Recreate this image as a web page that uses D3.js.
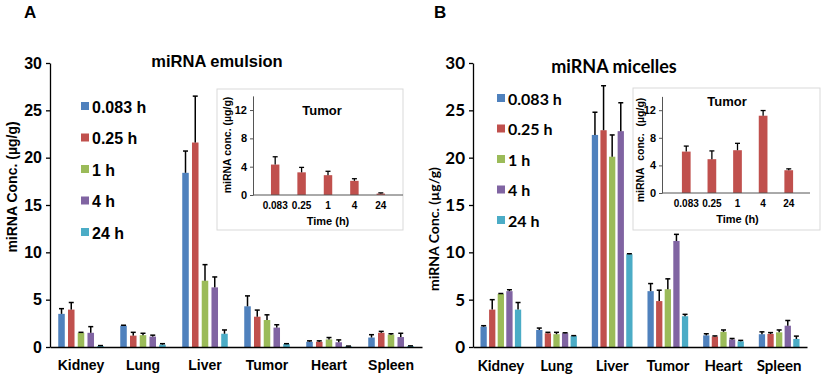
<!DOCTYPE html>
<html><head><meta charset="utf-8">
<script src="https://cdn.jsdelivr.net/npm/d3@7"></script>
<style>body{margin:0;background:#fff}svg{display:block}</style>
</head><body>
<svg id="c" width="824" height="379"></svg>
<script>
// ---- data ----
const organs = ["Kidney", "Lung", "Liver", "Tumor", "Heart", "Spleen"];
const times = ["0.083 h", "0.25 h", "1 h", "4 h", "24 h"];
const timeTicks = ["0.083", "0.25", "1", "4", "24"];
const colors = ["#4f81bd", "#c0504d", "#9bbb59", "#8064a2", "#4bacc6"];
const yTicksMain = [0, 5, 10, 15, 20, 25, 30];
const yTicksInset = [0, 4, 8, 12];

// emulsion: values per time series, across organs
const emul0083 = [3.5, 2.25, 18.4, 4.3, 0.55, 1.0];
const emul025  = [3.95, 1.2, 21.6, 3.2, 0.55, 1.5];
const emul1    = [1.5, 1.25, 7.0, 2.85, 0.8, 1.3];
const emul4    = [1.5, 1.1, 6.3, 2.05, 0.5, 1.05];
const emul24   = [0.1, 0.25, 1.4, 0.3, 0.08, 0.1];
const emul0083Err = [0.55, 0.05, 2.3, 1.1, 0.1, 0.3];
const emul025Err  = [0.75, 0.35, 4.9, 0.7, 0.1, 0.15];
const emul1Err    = [0.05, 0.2, 1.7, 0.55, 0.2, 0.1];
const emul4Err    = [0.65, 0.15, 1.1, 0.3, 0.25, 0.4];
const emul24Err   = [0.05, 0.1, 0.4, 0.05, 0.02, 0.02];

// micelles
const mic0083 = [2.15, 1.8, 22.4, 5.9, 1.23, 1.35];
const mic025  = [3.95, 1.45, 22.9, 4.85, 1.1, 1.38];
const mic1    = [5.6, 1.35, 20.1, 6.1, 1.6, 1.55];
const mic4    = [5.9, 1.45, 22.8, 11.2, 0.8, 2.25];
const mic24   = [3.95, 1.15, 9.8, 3.25, 0.6, 0.85];
const mic0083Err = [0.1, 0.2, 2.4, 0.8, 0.17, 0.25];
const mic025Err  = [1.05, 0.1, 4.7, 1.15, 0.07, 0.14];
const mic1Err    = [0.05, 0.2, 2.3, 1.1, 0.2, 0.25];
const mic4Err    = [0.15, 0.05, 3.0, 0.7, 0.1, 0.55];
const mic24Err   = [0.75, 0.05, 0.05, 0.2, 0.1, 0.3];

// tumor insets
const insetEmul = [4.3, 3.2, 2.8, 2.0, 0.2];
const insetEmulErr = [1.1, 0.7, 0.55, 0.3, 0.1];
const insetMic = [6.0, 4.9, 6.2, 11.2, 3.3];
const insetMicErr = [0.8, 1.2, 1.0, 0.75, 0.2];

const svg = d3.select("#c");
const ARIAL = "'Liberation Sans', Arial, sans-serif";

function buildMatrix(series, errs) {
  return organs.map((o, i) => times.map((t, j) => ({ organ: o, time: t, j, v: series[j][i], e: errs[j][i] })));
}

function drawPanel(cfg) {
  const g = svg.append("g");
  const y = d3.scaleLinear().domain([0, 30]).range([347, 63]);
  const x0 = d3.scaleBand().domain(organs).range([cfg.x0, cfg.x1]).paddingInner(cfg.gPad).paddingOuter(cfg.gPad / 2);
  const x1 = d3.scaleBand().domain(times).range([0, x0.bandwidth()]).paddingInner(cfg.bPad).paddingOuter(cfg.bPad / 2);
  const data = buildMatrix(cfg.series, cfg.errs);

  // bars
  const groups = g.selectAll("g.grp").data(data).join("g").attr("transform", (d, i) => `translate(${x0(organs[i])},0)`);
  groups.selectAll("rect").data(d => d).join("rect")
    .attr("x", d => x1(d.time)).attr("width", x1.bandwidth())
    .attr("y", d => y(d.v)).attr("height", d => y(0) - y(d.v))
    .attr("fill", d => colors[d.j]);
  // error bars
  const eb = groups.selectAll("g.eb").data(d => d).join("g").attr("class", "eb");
  eb.append("line")
    .attr("x1", d => x1(d.time) + x1.bandwidth() / 2).attr("x2", d => x1(d.time) + x1.bandwidth() / 2)
    .attr("y1", d => y(d.v)).attr("y2", d => y(d.v + d.e)).attr("stroke", "#000").attr("stroke-width", 1.5);
  eb.append("line")
    .attr("x1", d => x1(d.time) + x1.bandwidth() / 2 - 2.5).attr("x2", d => x1(d.time) + x1.bandwidth() / 2 + 2.5)
    .attr("y1", d => y(d.v + d.e)).attr("y2", d => y(d.v + d.e)).attr("stroke", "#000").attr("stroke-width", 1.5);

  // y axis
  const ya = g.append("g").attr("transform", `translate(${cfg.x0},0)`)
    .call(d3.axisLeft(y).tickValues(yTicksMain).tickSize(4).tickPadding(4).tickSizeOuter(0));
  ya.select(".domain").attr("stroke", "#000").attr("stroke-width", 1.3);
  ya.selectAll(".tick line").attr("stroke", "#000").attr("stroke-width", 1.3);
  ya.selectAll("text").attr("font-family", cfg.font).attr("font-weight", "bold").attr("font-size", cfg.yTickSize).attr("fill", "#000");

  // x axis
  const xa = g.append("g").attr("transform", `translate(0,${y(0)})`)
    .call(d3.axisBottom(x0).tickSize(0).tickPadding(cfg.xPad).tickSizeOuter(0));
  xa.select(".domain").attr("stroke", "#000").attr("stroke-width", 1.5);
  xa.selectAll("text").attr("font-family", cfg.font).attr("font-weight", "bold").attr("font-size", cfg.tickSize).attr("fill", "#000");

  // axis label
  g.append("text").attr("transform", `translate(${cfg.ylabX},${cfg.ylabY}) rotate(-90)`)
    .attr("text-anchor", "middle").attr("font-family", cfg.font).attr("font-weight", "bold")
    .attr("font-size", cfg.ylabSize).text("miRNA Conc. (µg/g)");

  // title
  g.append("text").attr("x", cfg.titleX).attr("y", cfg.titleY).attr("text-anchor", "middle")
    .attr("font-family", cfg.font).attr("font-weight", "bold").attr("font-size", cfg.titleSize).text(cfg.title);

  // panel letter
  g.append("text").attr("x", cfg.letterX).attr("y", 18).attr("font-family", ARIAL)
    .attr("font-weight", "bold").attr("font-size", 17).text(cfg.letter);

  // legend
  const lg = g.selectAll("g.lg").data(times).join("g")
    .attr("transform", (d, i) => `translate(${cfg.legX},${cfg.legY + i * cfg.legStep})`);
  lg.append("rect").attr("x", 0).attr("y", -5).attr("width", 8).attr("height", 8).attr("fill", (d, i) => colors[i]);
  lg.append("text").attr("x", 11).attr("y", 0).attr("dy", "0.35em").attr("font-family", cfg.font)
    .attr("font-weight", "bold").attr("font-size", cfg.legSize).text(d => d);

  // inset
  const ins = cfg.inset;
  g.append("rect").attr("x", ins.bx).attr("y", ins.by).attr("width", ins.bw).attr("height", ins.bh)
    .attr("fill", "#fff").attr("stroke", "#d9d9d9").attr("stroke-width", 1);
  const iy = d3.scaleLinear().domain([0, 14]).range([ins.y0, ins.y0 - 14 * ins.pxu]);
  const ix = d3.scaleBand().domain(timeTicks).range([ins.ax0, ins.ax1]).padding(ins.pad);
  const ib = g.append("g");
  const idata = ins.vals.map((v, i) => ({ t: timeTicks[i], v, e: ins.errs[i] }));
  ib.selectAll("rect").data(idata).join("rect")
    .attr("x", d => ix(d.t)).attr("width", ix.bandwidth()).attr("y", d => iy(d.v)).attr("height", d => iy(0) - iy(d.v))
    .attr("fill", "#c0504d");
  ib.selectAll("line.v").data(idata).join("line").attr("class", "v")
    .attr("x1", d => ix(d.t) + ix.bandwidth() / 2).attr("x2", d => ix(d.t) + ix.bandwidth() / 2)
    .attr("y1", d => iy(d.v)).attr("y2", d => iy(d.v + d.e)).attr("stroke", "#000").attr("stroke-width", 1.3);
  ib.selectAll("line.c").data(idata).join("line").attr("class", "c")
    .attr("x1", d => ix(d.t) + ix.bandwidth() / 2 - 2.5).attr("x2", d => ix(d.t) + ix.bandwidth() / 2 + 2.5)
    .attr("y1", d => iy(d.v + d.e)).attr("y2", d => iy(d.v + d.e)).attr("stroke", "#000").attr("stroke-width", 1.3);
  const iya = g.append("g").attr("transform", `translate(${ins.yaxX},0)`)
    .call(d3.axisLeft(iy).tickValues(yTicksInset).tickSize(3).tickPadding(3).tickSizeOuter(0));
  iya.select(".domain").attr("stroke", "#555").attr("stroke-width", 1);
  iya.selectAll(".tick line").attr("stroke", "#555");
  iya.selectAll("text").attr("font-family", ARIAL).attr("font-weight", "bold").attr("font-size", 11).attr("fill", "#000");
  const ixa = g.append("g").attr("transform", `translate(0,${ins.y0})`)
    .call(d3.axisBottom(ix).tickSize(0).tickPadding(7).tickSizeOuter(0));
  ixa.select(".domain").attr("stroke", "#555").attr("stroke-width", 1).attr("d", `M${ins.yaxX},0H${ins.ax1}`);
  ixa.selectAll("text").attr("font-family", ARIAL).attr("font-weight", "bold").attr("font-size", 10).attr("fill", "#000");
  g.append("text").attr("x", (ins.ax0 + ins.ax1) / 2).attr("y", ins.y0 + 30).attr("text-anchor", "middle")
    .attr("font-family", ARIAL).attr("font-weight", "bold").attr("font-size", 11).text("Time (h)");
  g.append("text").attr("x", ins.tX).attr("y", ins.tY).attr("text-anchor", "middle")
    .attr("font-family", ARIAL).attr("font-weight", "bold").attr("font-size", 13).text("Tumor");
  g.append("text").attr("transform", `translate(${ins.lX},${ins.lY}) rotate(-90)`).attr("text-anchor", "middle")
    .attr("font-family", ARIAL).attr("font-weight", "bold").attr("font-size", 10.5)
    .attr("word-spacing", ins.ws).text("miRNA conc. (µg/g)");
}

drawPanel({
  letter: "A", letterX: 24, font: ARIAL,
  series: [emul0083, emul025, emul1, emul4, emul24], errs: [emul0083Err, emul025Err, emul1Err, emul4Err, emul24Err],
  x0: 50, x1: 422, gPad: 0.214, bPad: 0.33, tickSize: 14, yTickSize: 16, xPad: 13,
  ylabX: 17, ylabY: 187, ylabSize: 14,
  title: "miRNA emulsion", titleX: 217, titleY: 67, titleSize: 16.5,
  legX: 81, legY: 107, legStep: 31.5, legSize: 16,
  inset: { bx: 217, by: 89, bw: 186, bh: 141, y0: 195, pxu: 7.08, ax0: 253, ax1: 403, pad: 0.68, yaxX: 253,
           vals: insetEmul, errs: insetEmulErr, tX: 322, tY: 115, lX: 231, lY: 145, ws: 0 }
});

drawPanel({
  letter: "B", letterX: 434, font: "Lato, 'Open Sans', sans-serif",
  series: [mic0083, mic025, mic1, mic4, mic24], errs: [mic0083Err, mic025Err, mic1Err, mic4Err, mic24Err],
  x0: 473, x1: 807, gPad: 0.227, bPad: 0.27, tickSize: 15, yTickSize: 17, xPad: 13,
  ylabX: 439, ylabY: 229, ylabSize: 14,
  title: "miRNA micelles", titleX: 614, titleY: 73, titleSize: 18,
  legX: 497, legY: 99, legStep: 30.5, legSize: 16,
  inset: { bx: 633, by: 88, bw: 187, bh: 142, y0: 193, pxu: 6.9, ax0: 665, ax1: 810, pad: 0.66, yaxX: 662,
           vals: insetMic, errs: insetMicErr, tX: 727, tY: 106, lX: 644, lY: 150, ws: 4 }
});
</script>
</body></html>
